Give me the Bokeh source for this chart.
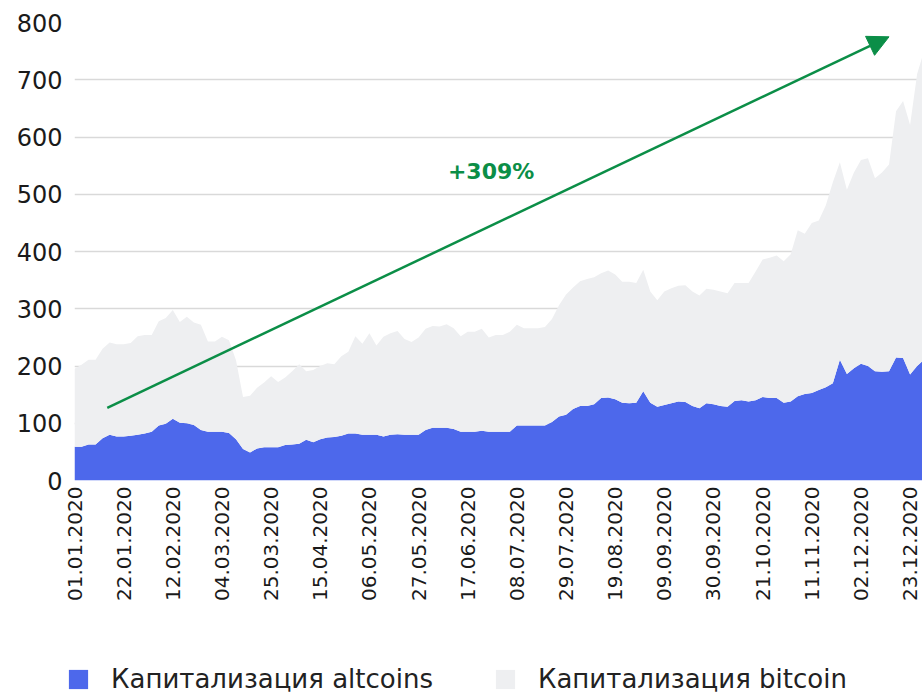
import math
import pandas as pd
from bokeh.plotting import figure
from bokeh.models import (FixedTicker, DatetimeTickFormatter, Legend, LegendItem,
                          Arrow, NormalHead, Label, Range1d, ColumnDataSource)
from bokeh.embed import file_html
from bokeh.resources import INLINE

# ---------------- data ----------------
start_date = "2020-01-01"
step_days = 3

# altcoin market cap, bn USD (every 3 days from 01.01.2020)
altcoins = [59, 59, 63, 63, 74, 80, 77, 77, 78, 80, 82, 85, 96, 99, 108, 101, 100, 97, 88, 85,
            85, 85, 83, 72, 55, 49, 56, 58, 58, 58, 62, 63, 64, 71, 67, 72, 75, 76, 78, 82,
            82, 80, 80, 80, 77, 80, 81, 80, 80, 80, 88, 92, 92, 92, 90, 85, 85, 85, 87, 85,
            85, 85, 85, 96, 96, 96, 96, 96, 102, 112, 115, 125, 130, 130, 133, 144, 145, 142, 136, 135,
            136, 156, 136, 129, 132, 135, 138, 137, 130, 126, 135, 133, 130, 129, 139, 140, 138, 140, 146, 144,
            144, 136, 138, 147, 151, 153, 158, 163, 170, 211, 186, 196, 204, 200, 191, 190, 191, 215, 214, 185,
            200, 211]

# total market cap (altcoins + bitcoin), bn USD
total = [195, 202, 211, 211, 230, 241, 238, 238, 240, 252, 254, 254, 278, 284, 298, 277, 286, 276, 272, 243,
         243, 251, 245, 210, 146, 148, 162, 171, 182, 172, 180, 191, 203, 191, 193, 200, 205, 203, 217, 225,
         252, 239, 257, 236, 251, 257, 261, 247, 242, 250, 265, 270, 269, 273, 266, 252, 260, 260, 265, 250,
         254, 254, 260, 272, 266, 266, 266, 268, 282, 306, 325, 337, 348, 352, 355, 362, 367, 360, 347, 347,
         345, 368, 330, 315, 330, 336, 340, 341, 330, 323, 335, 333, 330, 327, 345, 345, 345, 365, 386, 389,
         393, 383, 395, 437, 431, 450, 454, 481, 521, 556, 508, 538, 560, 563, 528, 538, 552, 645, 663, 621,
         710, 751]

bitcoin = [t - a for t, a in zip(total, altcoins)]

tick_labels = ["01.01.2020", "22.01.2020", "12.02.2020", "04.03.2020", "25.03.2020", "15.04.2020",
               "06.05.2020", "27.05.2020", "17.06.2020", "08.07.2020", "29.07.2020", "19.08.2020",
               "09.09.2020", "30.09.2020", "21.10.2020", "11.11.2020", "02.12.2020", "23.12.2020"]
y_ticks = [0, 100, 200, 300, 400, 500, 600, 700, 800]

series_names = ["Капитализация altcoins", "Капитализация bitcoin"]
growth_label = "+309%"
arrow_from = ("2020-01-15", 127)
arrow_to = ("2020-12-14", 775)
growth_label_pos = ("2020-06-27", 540)

# ---------------- styling ----------------
BLUE = "#4d68eb"
GREY = "#eeeff1"
GREEN = "#0b8e47"
FONT = "DejaVu Sans"
W = 922

dates = pd.date_range(start_date, periods=len(altcoins), freq=f"{step_days}D")
src = ColumnDataSource(dict(date=dates, altcoins=altcoins, bitcoin=bitcoin))

t0 = pd.Timestamp(start_date)
p = figure(width=W, height=604, x_axis_type="datetime",
           x_range=Range1d(t0, t0 + pd.Timedelta(days=362.3)),
           y_range=Range1d(0, 800),
           output_backend="svg", toolbar_location=None,
           min_border_left=74, min_border_right=0, min_border_top=22, min_border_bottom=123)
p.outline_line_color = None
p.background_fill_color = "white"

rs = p.varea_stack(["altcoins", "bitcoin"], x="date", color=[BLUE, GREY], source=src)

# axes
tick_ms = [pd.Timestamp(pd.to_datetime(s, format="%d.%m.%Y")).value / 1e6 for s in tick_labels]
p.xaxis.ticker = FixedTicker(ticks=tick_ms)
fmt = "%d.%m.%Y"
p.xaxis.formatter = DatetimeTickFormatter(microseconds=fmt, milliseconds=fmt, seconds=fmt,
                                          minsec=fmt, minutes=fmt, hourmin=fmt, hours=fmt,
                                          days=fmt, months=fmt, years=fmt)
p.xaxis.major_label_orientation = math.pi / 2
p.xaxis.major_label_text_font = FONT
p.xaxis.major_label_text_font_size = "20px"
p.xaxis.major_label_text_color = "#1a1a1a"
p.xaxis.major_label_standoff = 6

p.yaxis.ticker = FixedTicker(ticks=y_ticks)
p.yaxis.major_label_text_font = FONT
p.yaxis.major_label_text_font_size = "24px"
p.yaxis.major_label_text_color = "#1a1a1a"
p.yaxis.major_label_standoff = 12

for ax in (p.xaxis[0], p.yaxis[0]):
    ax.axis_line_color = None
    ax.major_tick_line_color = None
    ax.minor_tick_line_color = None
    ax.major_tick_out = 0
    ax.major_tick_in = 0

p.xgrid.visible = False
p.ygrid.ticker = FixedTicker(ticks=y_ticks)
p.ygrid.grid_line_color = "#d9d9d9"
p.ygrid.grid_line_width = 1.5

# arrow and growth label
def ms(d):
    return pd.Timestamp(d).value / 1e6

p.add_layout(Arrow(end=NormalHead(size=21, fill_color=GREEN, line_color=GREEN, line_width=1),
                   x_start=ms(arrow_from[0]), y_start=arrow_from[1],
                   x_end=ms(arrow_to[0]), y_end=arrow_to[1],
                   line_color=GREEN, line_width=2.5))
p.add_layout(Label(x=ms(growth_label_pos[0]), y=growth_label_pos[1], text=growth_label,
                   text_font=FONT, text_font_style="bold", text_font_size="22px",
                   text_color=GREEN, text_align="center", text_baseline="middle"))

# ---------------- legend strip under the chart (separate root, no frame alignment) ----------------
lg = figure(width=W, height=89, x_range=Range1d(t0, t0 + pd.Timedelta(days=362.3)),
            y_range=Range1d(5000, 6000), x_axis_type="datetime",
            x_axis_location=None, y_axis_location=None,
            output_backend="svg", toolbar_location=None,
            min_border_left=0, min_border_right=0, min_border_top=0, min_border_bottom=0)
lg.outline_line_color = None
lg.grid.visible = False
lrs = lg.varea_stack(["altcoins", "bitcoin"], x="date", color=[BLUE, GREY], source=src)

legend = Legend(items=[LegendItem(label=series_names[0], renderers=[lrs[0]]),
                       LegendItem(label=series_names[1], renderers=[lrs[1]])],
                orientation="horizontal", location=(66, -1),
                glyph_width=24, glyph_height=24, label_standoff=21, spacing=60,
                padding=0, margin=0,
                label_text_font=FONT, label_text_font_size="26px", label_text_color="#222222",
                border_line_color=None, background_fill_alpha=0)
lg.add_layout(legend, "center")

open("out.html", "w").write(file_html([p, lg], INLINE))
